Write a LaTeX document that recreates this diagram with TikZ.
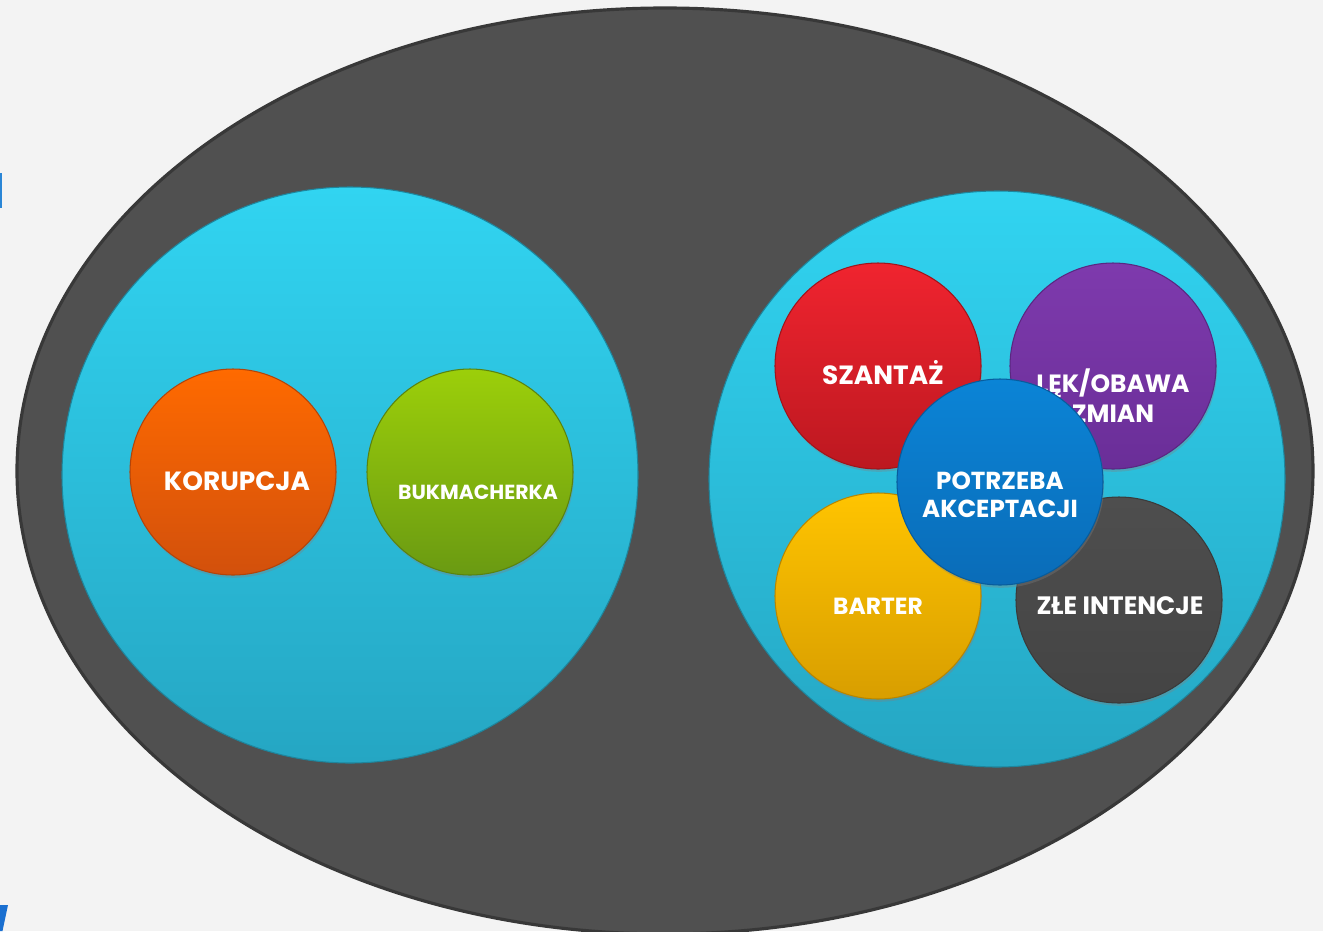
\documentclass[tikz,border=0pt]{standalone}
\usepackage{fontspec}
\newfontfamily\pop{Poppins}
\usetikzlibrary{shadows,shapes.geometric}
\definecolor{bgc}{HTML}{F3F3F3}
\definecolor{outer}{HTML}{505050}
\definecolor{outerb}{HTML}{383838}
\definecolor{cyanT}{HTML}{31D4F1}
\definecolor{cyanB}{HTML}{25A6C3}
\definecolor{orT}{HTML}{FF6A00}
\definecolor{orB}{HTML}{D2500C}
\definecolor{grT}{HTML}{9CCF0A}
\definecolor{grB}{HTML}{6A9A12}
\definecolor{reT}{HTML}{F0242F}
\definecolor{reB}{HTML}{BC1820}
\definecolor{puT}{HTML}{7E3AAD}
\definecolor{puB}{HTML}{6A2E98}
\definecolor{yeT}{HTML}{FFC400}
\definecolor{yeB}{HTML}{D89E00}
\definecolor{dgT}{HTML}{4E4E4E}
\definecolor{dgB}{HTML}{444444}
\definecolor{blT}{HTML}{0B84D6}
\definecolor{blB}{HTML}{0A6CB8}
\definecolor{markc}{HTML}{2A86D6}
\definecolor{markd}{HTML}{1A6FD0}
\tikzset{
  big/.style={circle, minimum size=576*0.02cm, inner sep=0pt, top color=cyanT, bottom color=cyanB, draw=cyanB!80!black, line width=0.6pt},
  ball/.style 2 args={circle, minimum size=206*0.02cm, inner sep=0pt, top color=#1, bottom color=#2, draw=#2!85!black, line width=0.6pt, drop shadow={opacity=0.35, shadow xshift=0.6pt, shadow yshift=-1.6pt}},
  lbl/.style={text=white, font=\pop\bfseries\fontsize{14.3}{16.5}\selectfont, align=center, inner sep=0pt}
}
\begin{document}
\begin{tikzpicture}[x=0.02cm, y=-0.02cm]
\useasboundingbox (0,0) rectangle (1323,931);
\fill[bgc] (0,0) rectangle (1323,931);
% slide decorations
\fill[markc] (0,173) rectangle (1.6,208);
\fill[markd] (0,905) -- (8,905) -- (2.5,931) -- (0,931) -- cycle;
% outer ellipse
\node (outer) [ellipse, draw=outerb, line width=1.8pt, fill=outer, minimum width=1296*0.02cm, minimum height=926*0.02cm, inner sep=0pt] at (665,471) {};
% big circles
\node (left) [big] at (350,475) {};
\node (right) [big] at (997,479) {};
% left balls
\node (kor) [ball={orT}{orB}] at (233,472) {};
\node [lbl, font=\pop\bfseries\fontsize{15}{17}\selectfont] at (237,481) {KORUPCJA};
\node (buk) [ball={grT}{grB}] at (470,472) {};
\node [lbl, font=\pop\bfseries\fontsize{11.6}{13}\selectfont] at (478,492) {BUKMACHERKA};
% right balls
\node (sza) [ball={reT}{reB}] at (878,366) {};
\node (lek) [ball={puT}{puB}] at (1113,366) {};
\node (bar) [ball={yeT}{yeB}] at (878,596) {};
\node (zle) [ball={dgT}{dgB}] at (1119,600) {};
\node [lbl, font=\pop\bfseries\fontsize{15}{17}\selectfont] at (883,373) {SZANTAŻ};
\node [lbl, font=\pop\bfseries\fontsize{14.2}{17}\selectfont] at (1113,396) {LĘK/OBAWA\\ZMIAN};
\node [lbl, font=\pop\bfseries\fontsize{13.3}{15}\selectfont] at (878,606) {BARTER};
\node [lbl] at (1120,606) {ZŁE INTENCJE};
\node (pot) [ball={blT}{blB}] at (1000,482) {};
\node [lbl, font=\pop\bfseries\fontsize{14}{16}\selectfont] at (1000,495) {POTRZEBA\\AKCEPTACJI};
\end{tikzpicture}
\end{document}
